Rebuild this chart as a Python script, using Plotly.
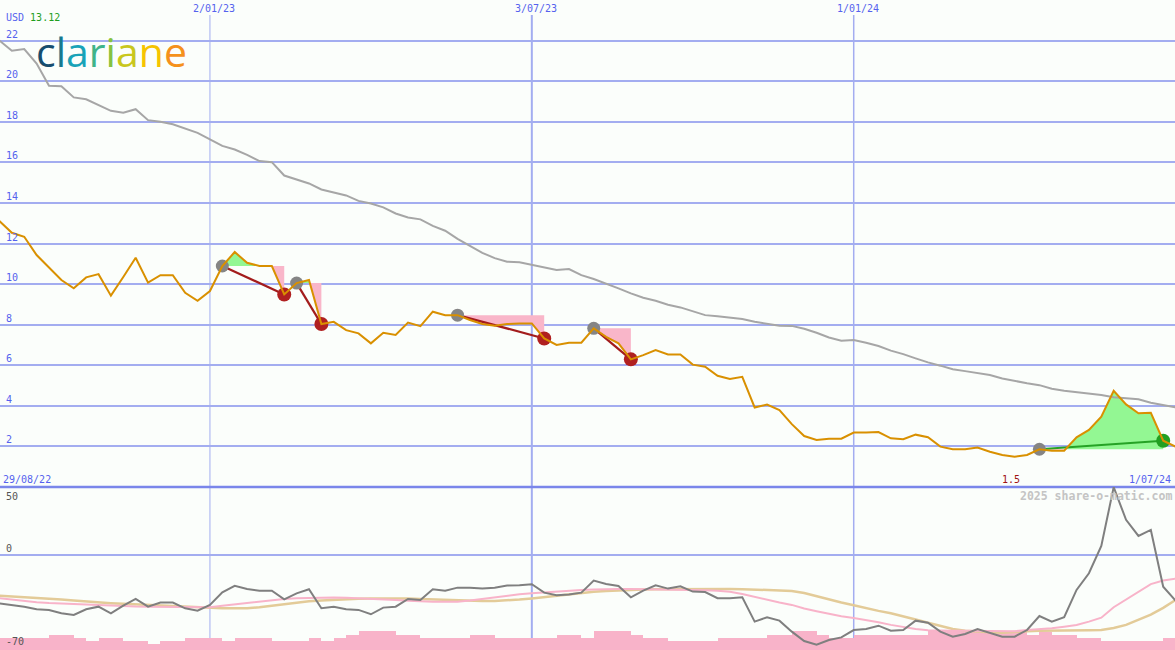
import plotly.graph_objects as go
import pandas as pd

# ---------------- data ----------------
start_date = "2022-08-29"
n_weeks = 97
dates = pd.date_range(start_date, periods=n_weeks, freq="7D")

price = [13.45, 13.10, 12.53, 12.33, 11.43, 10.79, 10.20, 9.79, 10.33, 10.49,
         9.43, 10.35, 11.30, 10.07, 10.44, 10.44, 9.57, 9.18, 9.66, 10.89,
         11.58, 11.05, 10.89, 10.89, 9.49, 10.05, 10.20, 8.03, 8.14, 7.73,
         7.57, 7.08, 7.60, 7.49, 8.10, 7.93, 8.64, 8.47, 8.47, 8.23,
         8.03, 7.95, 8.03, 8.06, 8.06, 7.32, 7.00, 7.11, 7.11, 7.82,
         7.40, 7.08, 6.29, 6.50, 6.75, 6.53, 6.53, 6.03, 5.93, 5.48,
         5.32, 5.43, 3.92, 4.06, 3.79, 3.10, 2.51, 2.32, 2.38, 2.38,
         2.68, 2.68, 2.71, 2.40, 2.35, 2.58, 2.45, 1.99, 1.86, 1.86,
         1.94, 1.74, 1.58, 1.49, 1.58, 1.86, 1.79, 1.79, 2.45, 2.81,
         3.46, 4.74, 4.07, 3.63, 3.66, 2.28, 1.99]

long_ma = [22.10, 22.00, 21.50, 21.58, 20.87, 19.77, 19.75, 19.20, 19.11, 18.82,
           18.54, 18.44, 18.62, 18.08, 18.00, 17.88, 17.65, 17.45, 17.13, 16.81,
           16.63, 16.37, 16.06, 16.01, 15.35, 15.16, 14.96, 14.66, 14.53, 14.37,
           14.10, 13.97, 13.78, 13.48, 13.28, 13.19, 12.87, 12.63, 12.23, 11.87,
           11.54, 11.28, 11.10, 11.08, 10.94, 10.80, 10.69, 10.74, 10.44, 10.25,
           10.03, 9.79, 9.54, 9.33, 9.18, 8.98, 8.85, 8.67, 8.47, 8.42,
           8.34, 8.28, 8.14, 8.06, 7.95, 7.94, 7.80, 7.60, 7.37, 7.21,
           7.24, 7.11, 6.95, 6.72, 6.55, 6.34, 6.14, 5.98, 5.80, 5.71,
           5.63, 5.52, 5.35, 5.22, 5.11, 5.02, 4.84, 4.74, 4.68, 4.61,
           4.53, 4.42, 4.37, 4.32, 4.15, 4.05, 3.92]

oscillator = [-34.5, -35.6, -36.8, -38.1, -40.0, -40.5, -43.0, -44.2, -40.0, -38.1,
              -43.0, -37.3, -32.4, -38.1, -35.1, -35.1, -39.3, -41.0, -36.8, -27.5,
              -22.8, -25.1, -26.3, -26.3, -32.7, -28.3, -25.3, -39.3, -38.1, -40.0,
              -40.5, -43.7, -38.8, -38.1, -32.4, -33.2, -25.3, -26.3, -24.1, -24.1,
              -24.8, -24.1, -22.6, -22.4, -21.6, -27.8, -29.7, -29.2, -27.8, -18.9,
              -21.4, -22.8, -31.2, -26.3, -22.4, -24.8, -23.1, -27.0, -27.3, -31.9,
              -31.9, -31.2, -49.1, -45.9, -48.4, -56.5, -63.4, -66.1, -62.6, -60.7,
              -55.3, -54.5, -52.1, -55.8, -55.3, -48.4, -49.9, -56.5, -60.2, -58.2,
              -54.5, -57.3, -60.2, -60.2, -55.3, -45.0, -49.1, -45.9, -25.8, -13.5,
              6.6, 49.9, 25.8, 14.0, 18.4, -23.4, -33.7]

osc_fast_ma = [-31.0, -32.0, -33.0, -34.0, -34.8, -35.4, -35.8, -36.2, -36.6, -37.0,
               -37.5, -37.8, -38.0, -38.1, -38.2, -38.3, -38.5, -38.6, -38.5, -37.5,
               -36.5, -35.3, -34.2, -33.2, -32.4, -31.9, -31.6, -31.4, -31.4, -31.6,
               -31.9, -32.3, -32.8, -33.2, -33.8, -34.2, -34.4, -34.4, -34.4, -33.5,
               -32.3, -31.5, -30.3, -29.0, -28.3, -27.6, -27.0, -26.5, -25.9, -25.4,
               -25.1, -25.1, -25.1, -25.2, -25.3, -25.4, -25.6, -25.8, -26.0, -26.4,
               -27.2, -28.8, -31.0, -33.2, -35.0, -36.8, -39.5, -41.5, -43.5, -45.2,
               -46.5, -47.9, -49.5, -51.5, -53.2, -54.5, -55.5, -55.8, -55.8, -55.8,
               -56.0, -56.3, -56.5, -56.2, -55.3, -54.7, -54.0, -52.8, -51.6, -49.1,
               -46.2, -38.5, -32.7, -27.0, -21.5, -18.9, -17.4]

osc_slow_ma = [-29.5, -30.0, -30.5, -31.0, -31.5, -32.0, -32.8, -33.6, -34.4, -35.1,
               -35.5, -36.0, -36.4, -36.8, -37.3, -37.8, -38.2, -38.7, -39.0, -39.3,
               -39.3, -39.3, -38.6, -37.5, -36.2, -35.0, -34.2, -33.6, -33.0, -32.5,
               -32.2, -32.0, -31.9, -31.9, -32.0, -32.4, -32.8, -33.2, -33.5, -33.8,
               -33.9, -33.9, -33.5, -32.8, -32.0, -31.0, -30.0, -29.0, -28.0, -27.2,
               -26.6, -26.1, -25.7, -25.4, -25.2, -25.1, -25.0, -25.0, -25.0, -25.0,
               -25.1, -25.2, -25.4, -25.6, -26.0, -26.5, -28.0, -30.5, -33.0, -35.0,
               -37.0, -39.3, -41.2, -43.0, -45.0, -47.5, -50.0, -52.5, -54.5, -55.8,
               -56.5, -57.0, -57.3, -57.0, -56.2, -55.8, -55.8, -55.8, -55.6, -55.4,
               -55.2, -53.8, -51.5, -48.0, -44.0, -39.0, -33.2]

volume_bars = [8.6, 8.6, 8.6, 8.6, 8.6, 11.3, 11.3, 8.6, 6.6, 8.8,
               8.8, 6.6, 6.6, 4.6, 6.6, 6.6, 8.8, 8.8, 8.8, 6.6,
               9.1, 9.1, 9.1, 6.6, 6.6, 6.6, 9.1, 6.6, 9.1, 11.0,
               14.0, 14.0, 14.0, 11.0, 11.0, 9.1, 9.1, 9.1, 9.1, 11.0,
               11.0, 9.1, 9.1, 9.1, 9.1, 9.1, 11.0, 11.0, 9.1, 14.0,
               14.0, 14.0, 11.0, 9.1, 9.1, 6.6, 6.6, 6.6, 6.6, 9.1,
               9.1, 9.1, 9.1, 11.0, 11.0, 14.2, 14.2, 11.0, 9.1, 9.1,
               11.0, 11.0, 11.0, 11.0, 11.0, 11.0, 14.2, 14.2, 14.2, 14.2,
               14.2, 14.2, 14.2, 14.2, 11.0, 13.5, 11.0, 11.0, 9.1, 9.1,
               6.6, 6.6, 6.6, 6.6, 6.6, 9.1]

trade_entry_idx = [19, 25, 38, 49, 85]
trade_exit_idx = [24, 27, 45, 52, 95]

main_ticks = [2, 4, 6, 8, 10, 12, 14, 16, 18, 20, 22]
date_ticks = ["2023-01-02", "2023-07-03", "2024-01-01"]
date_tick_labels = ["2/01/23", "3/07/23", "1/01/24"]
date_tick_widths = [1, 2, 1.5]
start_label = "29/08/22"
end_label = "1/07/24"
osc_labels = [50, 0, -70]
currency = "USD"
last_quote = "13.12"
logo_letters = ["c", "l", "a", "r", "i", "a", "n", "e"]
logo_colors = ["#174d6e", "#16798f", "#18a3b8", "#3fb48a", "#86c23f", "#c9c71d", "#f6c400", "#f5911c"]

# ---------------- styling ----------------
BG = "#fbfefb"
GRID = "#a3adf0"
SEP = "#7a86ea"
BLUE = "#5562ee"
PRICE_C = "#d99000"
MA_C = "#a6a6a6"
OSC_C = "#7f7f7f"
PINK_C = "#f8b3c9"
TAN_C = "#e3cb98"
GREEN_FILL = "#93f793"
PINK_FILL = "#f9b6c9"
LOSS_C = "#a31c1c"
GAIN_C = "#26a226"
MONO = "DejaVu Sans Mono"
H = 650.0
W = 1175.0
SPLIT = 1 - 487 / H


def py(pix):
    return 1 - pix / H


def t2date(t):
    return pd.Timestamp(start_date) + pd.Timedelta(days=7 * t)


fig = go.Figure()

# trade fills (green above entry level, pink below)
for i0, i1 in zip(trade_entry_idx, trade_exit_idx):
    level = price[i0]
    ts, ps = [], []
    for k in range(i0, i1 + 1):
        if k > i0:
            a, b = price[k - 1] - level, price[k] - level
            if a * b < 0:
                f = a / (a - b)
                ts.append(k - 1 + f)
                ps.append(level)
        ts.append(k)
        ps.append(price[k])
    xs = [t2date(t) for t in ts]
    for sel, col in ((max, GREEN_FILL), (min, PINK_FILL)):
        clipped = [sel(p, level) for p in ps]
        fig.add_trace(go.Scatter(
            x=xs + xs[::-1], y=clipped + [level] * len(xs),
            fill="toself", fillcolor=col, mode="lines", line=dict(width=0),
            hoverinfo="skip", showlegend=False, xaxis="x", yaxis="y"))

# long moving average
fig.add_trace(go.Scatter(x=dates, y=long_ma, mode="lines",
                         line=dict(color=MA_C, width=2), showlegend=False,
                         xaxis="x", yaxis="y"))

# trade connecting lines and dots
for i0, i1 in zip(trade_entry_idx, trade_exit_idx):
    col = GAIN_C if price[i1] > price[i0] else LOSS_C
    fig.add_trace(go.Scatter(x=[dates[i0], dates[i1]], y=[price[i0], price[i1]],
                             mode="lines", line=dict(color=col, width=2.2),
                             showlegend=False, xaxis="x", yaxis="y"))
    fig.add_trace(go.Scatter(x=[dates[i0]], y=[price[i0]], mode="markers",
                             marker=dict(color="#858585", size=13, line=dict(width=0)),
                             showlegend=False, xaxis="x", yaxis="y"))
    fig.add_trace(go.Scatter(x=[dates[i1]], y=[price[i1]], mode="markers",
                             marker=dict(color=("#22a022" if col == GAIN_C else "#b02020"),
                                         size=14, line=dict(width=0)),
                             showlegend=False, xaxis="x", yaxis="y"))

# price line
fig.add_trace(go.Scatter(x=dates, y=price, mode="lines",
                         line=dict(color=PRICE_C, width=2), showlegend=False,
                         xaxis="x", yaxis="y"))

# lower panel: volume-like bars
fig.add_trace(go.Bar(x=dates[:len(volume_bars)], y=volume_bars, base=-70,
                     offset=0, width=7 * 24 * 3600 * 1000,
                     marker=dict(color=PINK_C, line=dict(width=0)),
                     showlegend=False, xaxis="x", yaxis="y2"))
fig.add_trace(go.Scatter(x=dates, y=osc_slow_ma, mode="lines",
                         line=dict(color=TAN_C, width=2.5), showlegend=False,
                         xaxis="x", yaxis="y2"))
fig.add_trace(go.Scatter(x=dates, y=osc_fast_ma, mode="lines",
                         line=dict(color=PINK_C, width=2), showlegend=False,
                         xaxis="x", yaxis="y2"))
fig.add_trace(go.Scatter(x=dates, y=oscillator, mode="lines",
                         line=dict(color=OSC_C, width=2), showlegend=False,
                         xaxis="x", yaxis="y2"))

shapes = []
for d, w in zip(date_ticks, date_tick_widths):
    shapes.append(dict(type="line", xref="x", yref="paper", x0=d, x1=d,
                       y0=0, y1=py(15), line=dict(color=GRID, width=w), layer="between"))
shapes.append(dict(type="line", xref="paper", yref="paper", x0=0, x1=1,
                   y0=SPLIT, y1=SPLIT, line=dict(color=SEP, width=2.5), layer="between"))
# logo backdrop interrupting the top gridline
shapes.append(dict(type="rect", xref="paper", yref="paper", x0=34 / W, x1=193 / W,
                   y0=py(44), y1=py(36), fillcolor=BG, line=dict(width=0), layer="between"))

ann = []
for v in main_ticks:
    ann.append(dict(x=0, xref="paper", xanchor="left", xshift=4, y=v, yref="y",
                    yanchor="bottom", yshift=-1, text=str(v), showarrow=False,
                    font=dict(family=MONO, size=10, color=BLUE)))
for d, lab in zip(date_ticks, date_tick_labels):
    ann.append(dict(x=d, xref="x", xanchor="center", xshift=4, y=py(9), yref="paper",
                    yanchor="middle", text=lab, showarrow=False,
                    font=dict(family=MONO, size=10, color=BLUE)))
ann.append(dict(x=0, xref="paper", xanchor="left", xshift=1, y=py(479), yref="paper",
                yanchor="middle", text=start_label, showarrow=False,
                font=dict(family=MONO, size=10, color=BLUE)))
ann.append(dict(x=1, xref="paper", xanchor="right", xshift=-2, y=py(479), yref="paper",
                yanchor="middle", text=end_label, showarrow=False,
                font=dict(family=MONO, size=10, color=BLUE)))
imin = price.index(min(price))
ann.append(dict(x=dates[imin], xref="x", xanchor="center", xshift=-4, y=py(479), yref="paper",
                yanchor="middle", text=f"{min(price):.1f}", showarrow=False,
                font=dict(family=MONO, size=10, color="#a01414")))
ann.append(dict(x=1, xref="paper", xanchor="right", xshift=-1, y=py(496), yref="paper",
                yanchor="middle", text="<b>2025 share-o-matic.com</b>", showarrow=False,
                font=dict(family=MONO, size=11.5, color="#c4c4c4")))
ann.append(dict(x=0, xref="paper", xanchor="left", xshift=4, y=50, yref="y2",
                yanchor="top", yshift=-2, text=str(osc_labels[0]), showarrow=False,
                font=dict(family=MONO, size=10, color="#555555")))
ann.append(dict(x=0, xref="paper", xanchor="left", xshift=4, y=0, yref="y2",
                yanchor="bottom", yshift=-1, text=str(osc_labels[1]), showarrow=False,
                font=dict(family=MONO, size=10, color="#555555")))
ann.append(dict(x=0, xref="paper", xanchor="left", xshift=4, y=-70, yref="y2",
                yanchor="bottom", yshift=1, text=str(osc_labels[2]), showarrow=False,
                font=dict(family=MONO, size=10, color="#555555")))
ann.append(dict(x=0, xref="paper", xanchor="left", xshift=4, y=py(18), yref="paper",
                yanchor="middle",
                text=f'<span style="color:{BLUE}">{currency}</span> <span style="color:#1f9e1f">{last_quote}</span>',
                showarrow=False, font=dict(family=MONO, size=10, color=BLUE)))
logo = "".join(f'<span style="color:{c}">{l}</span>' for l, c in zip(logo_letters, logo_colors))
ann.append(dict(x=35 / W, xref="paper", xanchor="left", y=py(51), yref="paper",
                yanchor="middle", text=logo, showarrow=False, borderpad=0,
                font=dict(family="Open Sans", size=41, color="#174d6e")))

fig.update_layout(
    width=1175, height=650,
    margin=dict(l=0, r=0, t=0, b=0),
    paper_bgcolor=BG, plot_bgcolor=BG,
    showlegend=False, bargap=0,
    xaxis=dict(type="date", range=["2022-09-05 07:00", "2024-06-30 16:00"],
               showgrid=False, showticklabels=False, zeroline=False, ticks=""),
    yaxis=dict(domain=[SPLIT, 1], range=[0, 24], tickvals=main_ticks,
               showticklabels=False, gridcolor=GRID, gridwidth=2,
               zeroline=False, ticks="", anchor="x"),
    yaxis2=dict(domain=[0, SPLIT], range=[-70, 50], tickvals=[0],
                showticklabels=False, gridcolor=GRID, gridwidth=2,
                zeroline=False, ticks="", anchor="x"),
    shapes=shapes, annotations=ann,
)

fig.write_html("out.html", config={"displayModeBar": False},
               post_script="document.body.style.margin='0px';document.body.style.padding='0px';document.body.style.overflow='hidden';")
